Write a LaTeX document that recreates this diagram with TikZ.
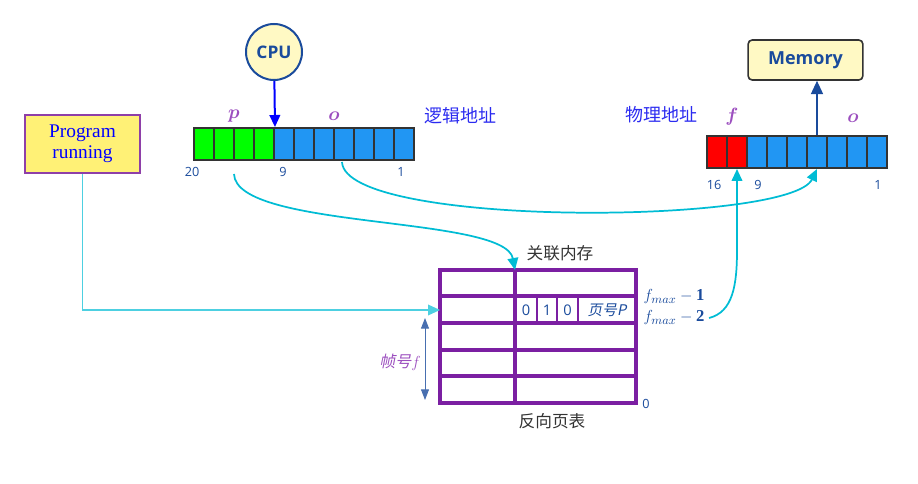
\documentclass[tikz,border=0pt]{standalone}
\usepackage{fontspec}
\usepackage{amsmath}
\usepackage{amssymb}
\setmainfont{Liberation Serif}
\setsansfont{Open Sans}
\newfontfamily\cjk{Noto Sans CJK SC}
\newfontfamily\cjkit[FakeSlant=0.2]{Noto Sans CJK SC}
\usetikzlibrary{arrows.meta,positioning}
\definecolor{cpufill}{HTML}{FFF9C4}
\definecolor{deepblue}{HTML}{1A4B9C}
\definecolor{bitgreen}{HTML}{00FF00}
\definecolor{bitblue}{HTML}{2196F3}
\definecolor{bitred}{HTML}{FF0000}
\definecolor{bitedge}{HTML}{333333}
\definecolor{tblpurple}{HTML}{7B1FA2}
\definecolor{flowcyan}{HTML}{00BCD4}
\definecolor{lightcyan}{HTML}{4DD0E1}
\definecolor{progfill}{HTML}{FFF176}
\definecolor{progedge}{HTML}{8E3FA8}
\definecolor{labpurple}{HTML}{9C4FBF}
\definecolor{txtblue}{HTML}{2B2BF0}
\definecolor{txtgrey}{HTML}{333333}

\begin{document}
\begin{tikzpicture}[x=0.75pt,y=-0.75pt,
  bit/.style={draw=bitedge,line width=1.5pt,minimum width=15pt,minimum height=24pt,inner sep=0pt},
  flow/.style={flowcyan,line width=1.3pt,-{Triangle[length=9pt,width=8pt]}},
  idx/.style={font=\sffamily\fontsize{9.5}{10}\selectfont,text=deepblue},
  field/.style={font=\fontsize{14}{14}\selectfont\boldmath,text=labpurple},
  cname/.style={font=\cjk\fontsize{13.5}{14}\selectfont,text=txtblue},
  tname/.style={font=\cjk\fontsize{12.5}{13}\selectfont,text=txtgrey},
  tblline/.style={color=tblpurple,line width=2.6pt},
  fmlabel/.style={text=deepblue,font=\fontsize{12.5}{13}\selectfont}]
\useasboundingbox (0,0) rectangle (918,484);

% CPU and memory
\node[circle,draw=deepblue,line width=1.5pt,fill=cpufill,minimum size=42pt,
  font=\sffamily\bfseries\fontsize{13}{13}\selectfont,text=deepblue] (cpu) at (274,52) {CPU};
\node[draw=bitedge,line width=1.2pt,rounded corners=3pt,fill=cpufill,minimum width=86pt,minimum height=30pt,
  font=\sffamily\bfseries\fontsize{13.5}{14}\selectfont,text=deepblue] (mem) at (805.5,60) {Memory};
\node[draw=progedge,line width=1.5pt,fill=progfill,minimum width=86pt,minimum height=43.5pt,
  align=center,text=blue,font=\fontsize{14.5}{16}\selectfont] (prog) at (82.5,144) {Program\\running};

% logical address
\foreach \i in {1,...,4}
  \node[bit,fill=bitgreen] (l\i) at ({184+20*\i},144) {};
\foreach \i in {5,...,11}
  \node[bit,fill=bitblue] (l\i) at ({184+20*\i},144) {};
\node[field] (lp) at (234,116) {$p$};
\node[field] (lo) at (334,116) {$o$};
\node[cname] (lname) at (460,116) {逻辑地址};
\node[idx] (l20) at (192,172) {20};
\node[idx] (l9) at (283,172) {9};
\node[idx] (l1) at (401,172) {1};

% physical address
\foreach \j in {1,2}
  \node[bit,fill=bitred] (r\j) at ({697+20*\j},152) {};
\foreach \j in {3,...,9}
  \node[bit,fill=bitblue] (r\j) at ({697+20*\j},152) {};
\node[field] (rf) at (732,117) {$f$};
\node[field] (ro) at (853,118) {$o$};
\node[cname] (rname) at (661,115) {物理地址};
\node[idx] (r16) at (714,185) {16};
\node[idx] (r9) at (758,185) {9};
\node[idx] (r1) at (878,185) {1};

% inverted page table
\coordinate (tbl nw) at (440,270);
\coordinate (tbl se) at (636,403);
\coordinate (tbl col) at (515,270);
\coordinate (tbl in) at (440,310);
\foreach \y in {296,323,350,376}
  \draw[tblline] (440,\y) -- (636,\y);
\draw[tblline] (tbl col) -- (515,403);
\draw[tblline] (tbl nw) rectangle (tbl se);
\foreach \x in {537,557,578}
  \draw[tblpurple,line width=0.8pt] (\x,297) -- (\x,322);
\node[idx,font=\sffamily\fontsize{11}{11}\selectfont] (b0) at (526,310) {0};
\node[idx,font=\sffamily\fontsize{11}{11}\selectfont] (b1) at (547,310) {1};
\node[idx,font=\sffamily\fontsize{11}{11}\selectfont] (b2) at (567.5,310) {0};
\node[text=deepblue,font=\cjkit\fontsize{11}{11}\selectfont] (pno) at (607,310) {页号P};
\node[tname] (assoc) at (560,253) {关联内存};
\node[tname] (iptname) at (552,421) {反向页表};
\node[idx] (zero) at (646,404) {0};
\node[fmlabel] (fm1) at (674,297) {$f_{max}-\mathbf{1}$};
\node[fmlabel] (fm2) at (674,318) {$f_{max}-\mathbf{2}$};
\node[text=labpurple,font=\cjkit\fontsize{12}{12}\selectfont] (fno) at (400,362) {帧号$f$};
\coordinate (fno top) at (425,318);
\coordinate (fno bot) at (425,400);
\draw[deepblue!80,line width=0.7pt,{Triangle[length=8pt,width=6pt]}-{Triangle[length=8pt,width=6pt]}] (fno top) -- (fno bot);

% connectors
\draw[blue,line width=1.5pt,-{Triangle[length=9pt,width=8pt]}] (cpu) -- (l4.north east);
\draw[deepblue,line width=1.3pt,-{Triangle[length=10pt,width=9pt]}] (r6.north) -- (r6.north |- mem.south);
\draw[lightcyan,line width=1.1pt,-{Triangle[length=9pt,width=8pt]}] (prog.south) -- (prog.south |- tbl in) -- (tbl in);
\coordinate (psrc) at (234,174);
\coordinate (osrc) at (342,162);
\draw[flow] (psrc) .. controls (236,230) and (505,215) .. (tbl col);
\draw[flow] (osrc) .. controls (345,228) and (790,225) .. (r6.south);
\draw[flow] (fm2.east) .. controls (733,312) and (737,285) .. (737,250) -- (r2.south);
\end{tikzpicture}
\end{document}
